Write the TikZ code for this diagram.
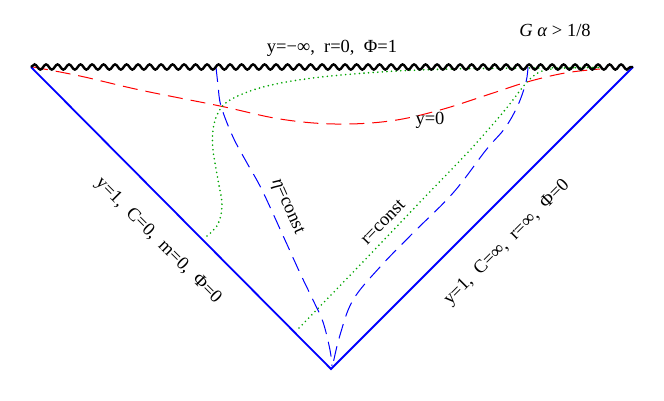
\documentclass[tikz,border=0pt]{standalone}
\usepackage{fontspec}
\setmainfont{Liberation Serif}
\usetikzlibrary{decorations.pathmorphing}
\definecolor{dgreen}{RGB}{0,165,0}
\begin{document}
\begin{tikzpicture}[x=1pt,y=-1pt, font=\fontsize{18.5}{21}\selectfont,
 edge/.style={blue, line width=1.8pt},
 sing/.style={line width=2.4pt, decorate, decoration={snake, segment length=11.5pt, amplitude=2.6pt}},
 reddash/.style={red, line width=1pt, dash pattern=on 15pt off 8pt},
 bluedash/.style={blue, line width=1pt, dash pattern=on 15pt off 8pt},
 greendot/.style={dgreen, line width=1.8pt, line cap=round, dash pattern=on 0pt off 4.6pt},
 lbl/.style={inner sep=0pt}]
\useasboundingbox (0,0) rectangle (664,400);
\coordinate (TL) at (31,67);
\coordinate (TR) at (633,67);
\coordinate (B) at (331,369);
% curves
\draw[reddash] plot[smooth, tension=0.6] coordinates {(33,67) (80,76) (140,90) (220,106) (280,119) (335,124) (390,121) (440,110) (490,94) (527,82) (565,73) (600,69)};
\draw[greendot] plot[smooth, tension=0.6] coordinates {(207,236) (218,224) (222,205) (218,180) (213,150) (213,130) (218,113) (230,100) (263,87) (313,78) (380,72) (450,69) (530,68) (600,67.5)};
\draw[greendot] plot[smooth, tension=0.5] coordinates {(299,328) (360,265) (422,200) (470,150) (505,110) (527,82) (542,71) (565,68) (600,67.5)};
\draw[bluedash] plot[smooth, tension=0.6] coordinates {(216,67) (218,85) (221,106) (233,137) (247,163) (262,190) (285,240) (300,273) (313,300) (323,322) (330,350) (332,366)};
\draw[bluedash] plot[smooth, tension=0.6] coordinates {(528,67) (526,82) (518,105) (505,128) (486,150) (453,193) (413,233) (380,267) (353,300) (340,335) (333,364)};
% frame
\draw[edge] (TL) -- (B) -- (TR);
\draw[sing] (TL) -- (TR);
% labels
\node[lbl] (top) at (332,48) {y=−∞,\ \ r=0,\ \ Φ=1};
\node[lbl] (ga) at (555,30) {\textit{G α} > 1/8};
\node[lbl] (y0) at (430,120) {y=0};
\node[lbl, rotate=-66] (eta) at (287,207) {\textit{η}=const};
\node[lbl, rotate=46] (rc) at (383,222) {r=const};
\node[lbl, rotate=-45] (lft) at (158,241) {y=1,\ \ C=0,\ \ m=0,\ \ Φ=0};
\node[lbl, rotate=45] (rgt) at (507,243) {y=1,\ \ C=∞,\ \ r=∞,\ \ Φ=0};
\end{tikzpicture}
\end{document}
